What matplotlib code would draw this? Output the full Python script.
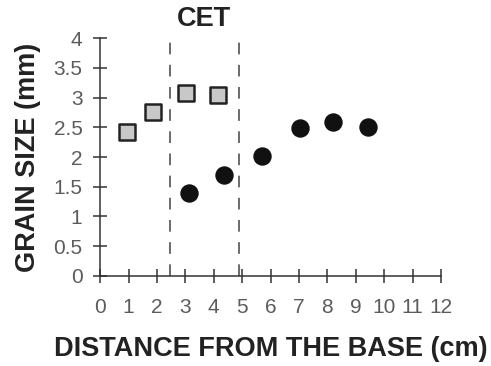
import matplotlib
matplotlib.use("Agg")
import matplotlib.pyplot as plt

sq_x = [0.95, 1.87, 3.03, 4.16]
sq_y = [2.42, 2.75, 3.08, 3.05]
ci_x = [3.14, 4.37, 5.70, 7.04, 8.20, 9.44]
ci_y = [1.40, 1.69, 2.02, 2.49, 2.59, 2.50]
cet_bounds = [2.46, 4.88]
x_ticks = list(range(0, 13))
y_ticks = [0, 0.5, 1, 1.5, 2, 2.5, 3, 3.5, 4]
y_tick_labels = ["0", "0.5", "1", "1.5", "2", "2.5", "3", "3.5", "4"]

plt.rcParams['font.family'] = ['Liberation Sans', 'DejaVu Sans']

fig = plt.figure(figsize=(4.91, 3.66), dpi=100)
ax = fig.add_axes([0.204, 0.246, 0.694, 0.65])
ax.set_xlim(0, 12)
ax.set_ylim(0, 4)
ax.spines['top'].set_visible(False)
ax.spines['right'].set_visible(False)
for s in ['left', 'bottom']:
    ax.spines[s].set_color('#333333')
    ax.spines[s].set_linewidth(1.1)
ax.set_xticks(x_ticks)
ax.set_yticks(y_ticks)
ax.set_yticklabels(y_tick_labels)
ax.tick_params(direction='inout', length=9.5, width=1.1, color='#333333',
               labelsize=15, labelcolor='#5c5c5c')
ax.tick_params(axis='x', pad=11)
ax.tick_params(axis='y', pad=8)

for xb in cet_bounds:
    ax.plot([xb, xb], [0, 4.05], linestyle=(0, (6.0, 5.4)), color='#6a6a6a',
            linewidth=1.4, clip_on=False)

ax.scatter(sq_x, sq_y, marker='s', s=125, facecolor='#c8c8c8',
           edgecolor='#222222', linewidths=1.8, zorder=3, clip_on=False)
ax.scatter(ci_x, ci_y, marker='o', s=150, facecolor='#111111',
           edgecolor='#111111', zorder=3, clip_on=False)

ax.text((cet_bounds[0] + cet_bounds[1]) / 2, 4.32, 'CET', ha='center',
        va='center', fontsize=19.5, fontweight='bold', color='#222222')

ax.set_xlabel('DISTANCE FROM THE BASE (cm)', fontsize=19.5, fontweight='bold',
              color='#222222', labelpad=14)
ax.set_ylabel('GRAIN SIZE (mm)', fontsize=19.5, fontweight='bold',
              color='#222222', labelpad=9)

fig.savefig('out.png', dpi=100)
